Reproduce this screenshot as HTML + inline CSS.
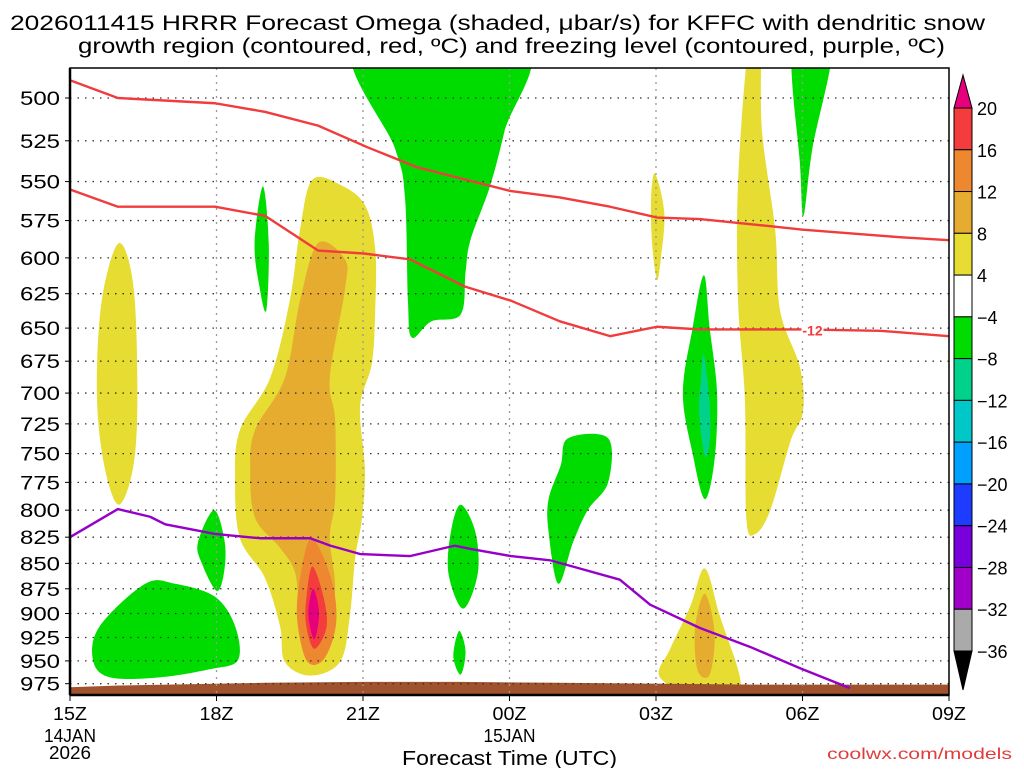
<!DOCTYPE html>
<html><head><meta charset="utf-8">
<style>
html,body{margin:0;padding:0;background:#fff;}
body{width:1024px;height:768px;overflow:hidden;font-family:"Liberation Sans",sans-serif;}
svg text{font-family:"Liberation Sans",sans-serif;}
</style></head>
<body>
<svg id="chart" width="1024" height="768" xmlns="http://www.w3.org/2000/svg">
<text x="10" y="30" font-size="21" textLength="975" lengthAdjust="spacingAndGlyphs" fill="#000">2026011415 HRRR Forecast Omega (shaded, μbar/s) for KFFC with dendritic snow</text>
<text x="78" y="53" font-size="21" textLength="867" lengthAdjust="spacingAndGlyphs" fill="#000">growth region (contoured, red, ºC) and freezing level (contoured, purple, ºC)</text>
<defs><clipPath id="plotclip"><rect x="70" y="68" width="879" height="627"/></clipPath></defs>
<g id="shades" clip-path="url(#plotclip)"></g>
<g id="grid"></g>
<g id="lines" clip-path="url(#plotclip)"></g>
<g id="axes"></g>
<g id="cbar"></g>
<text x="402" y="765" font-size="20" textLength="215" lengthAdjust="spacingAndGlyphs" fill="#000">Forecast Time (UTC)</text>
<text x="827" y="759" font-size="16" textLength="185" lengthAdjust="spacingAndGlyphs" fill="#e03c3c">coolwx.com/models</text>
</svg>
<script>
// ---- data ----
const pressureTicks = [500,525,550,575,600,625,650,675,700,725,750,775,800,825,850,875,900,925,950,975];
const timeTickHours = [0,3,6,9,12,15,18];
const timeTickLabels = ["15Z","18Z","21Z","00Z","03Z","06Z","09Z"];
const colorbarLevels = ["20","16","12","8","4","−4","−8","−12","−16","−20","−24","−28","−32","−36"];
const colorbarColors = ["#f43c3c","#ee8830","#e6ac30","#e6dc32","#ffffff","#00dc00","#00d28c","#00c8c8","#00a0ff","#1e3cff","#7800dc","#a000c8","#aaaaaa"];

const blobGreenTop = [[5.85,470],[6.66,530],[6.86,560],[6.92,630],[7.0,657],[7.4,645],[8.0,640],[8.1,610],[8.2,588],[8.6,553],[8.9,519],[9.3,470]];
const blobGreenTopRight = [[14.8,470],[14.95,540],[15.02,572],[15.2,530],[15.6,470]];
const blobYellowRight = [[13.9,470],[13.68,550],[13.68,630],[13.82,705],[13.85,808],[14.03,822],[14.34,800],[14.75,740],[15.01,715],[14.95,680],[14.54,637],[14.44,581],[14.17,519],[14.13,470]];
const blobYellowSmall = [[11.98,545],[12.17,570],[12.1,600],[12.02,615],[11.92,590],[11.9,560]];
const blobGreenFour = [[12.98,612],[13.1,650],[13.25,700],[13.2,755],[13.0,790],[12.75,750],[12.55,700],[12.75,650]];
const blobTealFour = [[12.98,670],[13.1,710],[13.1,740],[13.0,752],[12.88,715],[12.92,690]];
const blobGreen19 = [[3.95,553],[4.07,590],[4.02,637],[3.88,620],[3.78,590]];
const blobYellowLeft = [[1.0,590],[1.3,620],[1.38,700],[1.3,760],[1.0,795],[0.7,760],[0.55,700],[0.65,630]];
const blobYellowCenter = [[4.96,549],[4.71,581],[4.5,630],[4.1,688],[3.48,730],[3.38,773],[3.48,826],[3.99,864],[4.3,913],[4.4,951],[4.92,966],[5.53,951],[5.73,903],[5.84,845],[5.98,807],[6.04,764],[5.94,711],[6.18,677],[6.25,637],[6.25,594],[6.04,565],[5.53,552]];
const blobOrangeCenter = [[5.08,590],[4.71,630],[4.4,688],[3.79,730],[3.69,764],[3.79,807],[4.3,835],[4.61,859],[4.71,903],[4.92,946],[5.32,930],[5.43,874],[5.32,826],[5.43,789],[5.43,722],[5.32,688],[5.63,622],[5.63,601]];
const blobDarkOrange = [[4.95,826],[5.35,865],[5.45,910],[5.2,948],[4.85,950],[4.65,905],[4.72,862]];
const blobRed = [[4.97,853],[5.2,885],[5.25,915],[5.0,937],[4.83,910],[4.85,880]];
const blobMagenta = [[4.98,875],[5.1,900],[5.0,927],[4.88,900]];
const blobYellowLow = [[13.0,855],[13.31,903],[13.72,968],[13.6,990],[12.9,990],[12.08,968],[12.29,937],[12.7,893]];
const blobOrangeLow = [[13.0,880],[13.2,920],[13.1,965],[12.85,960],[12.8,915]];
const blobGreenLeft = [[0.47,949],[0.61,913],[1.54,870],[2.15,870],[2.97,883],[3.38,913],[3.44,949],[2.87,959],[1.84,968],[0.82,968]];
const blobGreen18 = [[2.95,800],[3.17,830],[3.15,860],[3.0,877],[2.7,850],[2.62,830]];
const blobGreen23 = [[8.0,795],[8.3,820],[8.35,860],[8.05,895],[7.75,860],[7.8,820]];
const blobGreen23b = [[7.97,918],[8.1,940],[8.0,965],[7.85,945]];
const blobGreen01 = [[10.2,737],[11.02,737],[11.02,775],[10.6,800],[10.3,830],[10.0,870],[9.8,820],[9.8,790],[10.05,760]];

const redUpperHours = [0,0.98,2.97,4.0,5.08,6.1,7.1,8.0,9.03,10.03,11.06,12.02,12.9,14.13,15.01,16.99,18];
const redUpperP = [490,500,503,508,516,529,541,548,556,560,566,573,574,578,581,586,588];
const redLowerHours = [0,0.98,2.97,4.0,5.08,6.02,6.96,8.09,9.03,10.03,11.06,12.02,12.9,14.13,15.01,16.59,18];
const redLowerP = [555,566,566,572,595,597,601,620,630,645,656,649,651,651,651,652,656];
const purpleHours = [0,0.98,1.64,1.95,2.97,3.89,4.92,5.33,5.94,6.96,7.88,8.19,9.03,9.83,10.44,11.26,11.88,12.9,13.93,14.95,15.97];
const purpleP = [825,799,806,813,822,826,826,833,841,843,833,836,843,847,855,866,891,915,935,958,980];

const groundHours = [0,1,2,4,6,8,10,12,14,16,18];
const groundP = [979,977,976,974,973,973,974,975,976,976,976];

// ---- axes ----
const X0=70, X1=949, Y0=68, Y1=695;
const xs = h => X0 + h*(X1-X0)/18;
const ys = p => 98 + 877*Math.log(p/500);
const NS="http://www.w3.org/2000/svg";
function mk(tag, attrs, parent){const e=document.createElementNS(NS,tag);for(const k in attrs)e.setAttribute(k,attrs[k]);parent.appendChild(e);return e;}

function smoothClosed(pts){
  const P=pts.map(p=>[xs(p[0]),ys(p[1])]);const n=P.length;let d=`M${P[0][0]},${P[0][1]}`;
  for(let i=0;i<n;i++){const p0=P[(i-1+n)%n],p1=P[i],p2=P[(i+1)%n],p3=P[(i+2)%n];
    const c1=[p1[0]+(p2[0]-p0[0])/6,p1[1]+(p2[1]-p0[1])/6],c2=[p2[0]-(p3[0]-p1[0])/6,p2[1]-(p3[1]-p1[1])/6];
    d+=`C${c1[0]},${c1[1]} ${c2[0]},${c2[1]} ${p2[0]},${p2[1]}`;}
  return d+"Z";
}
const shades=document.getElementById('shades');
const blobs=[
 [blobYellowLeft,"#e6dc32","shade-yellow-left"],[blobYellowCenter,"#e6dc32","shade-yellow-center"],
 [blobOrangeCenter,"#e6ac30","shade-orange-center"],[blobDarkOrange,"#ee8830","shade-darkorange-center"],
 [blobRed,"#f43c3c","shade-red-center"],[blobMagenta,"#e6007e","shade-magenta-center"],
 [blobYellowRight,"#e6dc32","shade-yellow-right"],[blobYellowSmall,"#e6dc32","shade-yellow-small"],
 [blobYellowLow,"#e6dc32","shade-yellow-low"],[blobOrangeLow,"#e6ac30","shade-orange-low"],
 [blobGreenTop,"#00dc00","shade-green-top"],[blobGreenTopRight,"#00dc00","shade-green-topright"],
 [blobGreenFour,"#00dc00","shade-green-04z"],[blobTealFour,"#00d28c","shade-teal-04z"],
 [blobGreen19,"#00dc00","shade-green-19z"],[blobGreenLeft,"#00dc00","shade-green-left"],
 [blobGreen18,"#00dc00","shade-green-18z"],[blobGreen23,"#00dc00","shade-green-23z"],
 [blobGreen23b,"#00dc00","shade-green-23z-low"],[blobGreen01,"#00dc00","shade-green-01z"]
];
blobs.forEach(b=>{const e=mk('path',{d:smoothClosed(b[0]),fill:b[1]},shades);
 
 });

// ground
let gd=`M${xs(0)},${Y1}`;groundHours.forEach((h,i)=>gd+=`L${xs(h)},${ys(groundP[i])}`);gd+=`L${xs(18)},${Y1}Z`;
const gEl=mk('path',{d:gd,fill:"#a0522d"},shades);



// grid
const grid=document.getElementById('grid');
pressureTicks.forEach(p=>{const e=mk('line',{x1:X0,x2:X1,y1:ys(p),y2:ys(p),stroke:"#333","stroke-width":1.3,"stroke-dasharray":"1.5,6"},grid);
 
 });
timeTickHours.slice(1,-1).forEach(h=>{const e=mk('line',{x1:xs(h),x2:xs(h),y1:Y0,y2:Y1,stroke:"#999","stroke-width":1.3,"stroke-dasharray":"2,5"},grid);
 
 });

// lines
const lines=document.getElementById('lines');
function poly(hs,ps,color,name){const e=mk('polyline',{points:hs.map((h,i)=>xs(h)+","+ys(ps[i])).join(" "),fill:"none",stroke:color,"stroke-width":2.4,"stroke-linejoin":"round"},lines);
 
 }
poly(redUpperHours,redUpperP,"#f03c3c","dendritic-upper-line");
poly(redLowerHours,redLowerP,"#f03c3c","dendritic-lower-line");
poly(purpleHours,purpleP,"#9600c8","freezing-level-line");
const lbr=mk('rect',{x:xs(15.0)-1,y:ys(651)-8,width:22,height:16,fill:"#fff"},lines);


const lbl=mk('text',{x:xs(15.0)+10,y:ys(651)+6,"font-size":14,"font-weight":"bold","text-anchor":"middle",fill:"#f03c3c"},lines);
lbl.textContent="-12";



// axes
const axes=document.getElementById('axes');
const frame=mk('rect',{x:X0,y:Y0,width:X1-X0,height:Y1-Y0,fill:"none",stroke:"#000","stroke-width":1.5},axes);


mk('line',{x1:X0,x2:X0,y1:Y0,y2:Y1,stroke:"#000","stroke-width":2.5},axes);
mk('line',{x1:X0,x2:X1,y1:Y1,y2:Y1,stroke:"#000","stroke-width":2.5},axes);
pressureTicks.forEach(p=>{mk('line',{x1:X0-5,x2:X0,y1:ys(p),y2:ys(p),stroke:"#000"},axes);
 const t=mk('text',{x:20,y:ys(p)+7,"font-size":19,textLength:40,lengthAdjust:"spacingAndGlyphs",fill:"#000"},axes);t.textContent=p;
 
 });
timeTickHours.forEach((h,i)=>{mk('line',{x1:xs(h),x2:xs(h),y1:Y1,y2:Y1+6,stroke:"#000"},axes);
 const t=mk('text',{x:xs(h)-17,y:Y1+25,"font-size":18,textLength:34,lengthAdjust:"spacingAndGlyphs",fill:"#000"},axes);t.textContent=timeTickLabels[i];
 
 });
[["14JAN",xs(0),742,52],["2026",xs(0),759,42],["15JAN",xs(9),742,52]].forEach(a=>{const t=mk('text',{x:a[1]-a[3]/2,y:a[2],"font-size":18,textLength:a[3],lengthAdjust:"spacingAndGlyphs",fill:"#000"},axes);t.textContent=a[0];
 
 });

// colorbar
const cb=document.getElementById('cbar');
const CX=954,CW=18,CT=108,CH=(651-108)/13;
const tri1=mk('polygon',{points:`${CX},${CT} ${CX+CW},${CT} ${CX+CW/2},75`,fill:"#e6007e",stroke:"#000"},cb);


colorbarColors.forEach((c,i)=>{const e=mk('rect',{x:CX,y:CT+i*CH,width:CW,height:CH,fill:c,stroke:"#000","stroke-width":1},cb);
 
 });
const tri2=mk('polygon',{points:`${CX},651 ${CX+CW},651 ${CX+CW/2},690`,fill:"#000",stroke:"#000"},cb);


colorbarLevels.forEach((l,i)=>{const t=mk('text',{x:CX+CW+5,y:CT+i*CH+7,"font-size":18,fill:"#000"},cb);t.textContent=l;
 
 });
</script>
</body></html>
